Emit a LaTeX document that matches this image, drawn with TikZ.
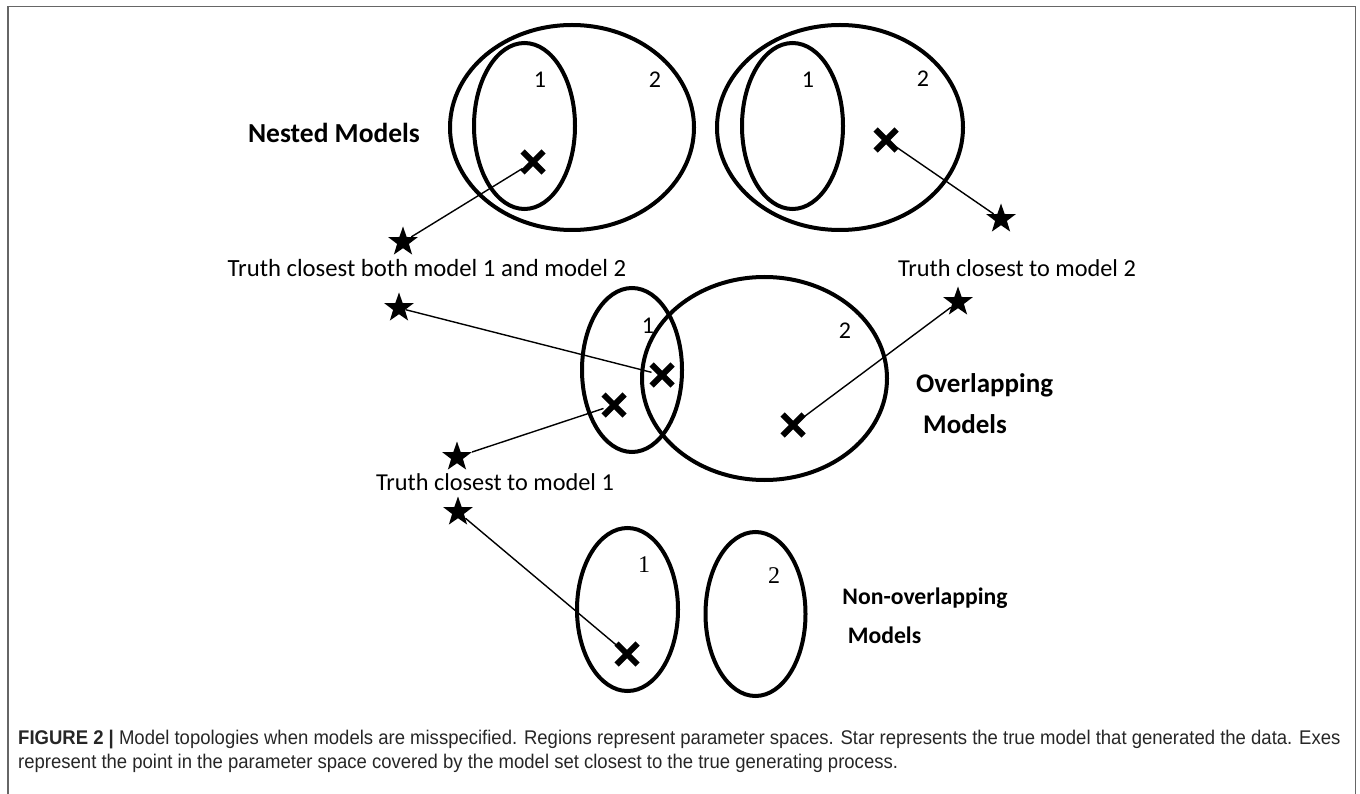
\documentclass[tikz,border=0pt]{standalone}
\usepackage{fontspec}
\setmainfont{Carlito}
\newfontfamily\capfont[FakeStretch=0.935]{Liberation Sans}
\newfontfamily\serifnum{Liberation Serif}
\usetikzlibrary{shapes.geometric,shapes.misc}
\begin{document}
\begin{tikzpicture}[x=1pt,y=-1pt,
  region/.style={draw, line width=4},
  conn/.style={line width=1.4},
  truth/.style={star, star points=5, star point ratio=2.5, fill=black, inner sep=0pt, minimum size=31pt},
  exes/.style={cross out, draw, line width=6pt, inner sep=0pt, minimum size=15pt},
  lab/.style={font=\fontsize{24.3}{29}\selectfont, inner sep=0pt},
  boldlab/.style={font=\fontsize{25}{40}\selectfont\bfseries, inner sep=0pt, align=left},
  num/.style={font=\fontsize{24}{29}\selectfont, inner sep=0pt},
  snum/.style={font=\fontsize{24}{29}\selectfont\serifnum, inner sep=0pt},
  captxt/.style={font=\fontsize{19.8}{24}\selectfont\capfont, text=black!85, inner sep=0pt, anchor=base west},
]
\useasboundingbox (0,0) rectangle (1360,794);
% frame
\draw[black!60, line width=1.6] (8,794) -- (8,6.5) -- (1355.5,6.5) -- (1355.5,794);

% ---- Nested models ----
\draw[region] (572,127.5) ellipse [x radius=122, y radius=102.5];
\draw[region] (524.5,126) ellipse [x radius=50.5, y radius=83];
\node[num] (n1a) at (540,80) {1};
\node[num] (n2a) at (655,80) {2};
\draw[region] (840,127.5) ellipse [x radius=123, y radius=102.5];
\draw[region] (792.5,126) ellipse [x radius=50.5, y radius=83];
\node[num] (n1b) at (808,80) {1};
\node[num] (n2b) at (923,79) {2};
\node[boldlab, font=\fontsize{27.5}{40}\selectfont\bfseries] (nested) at (334,133) {Nested Models};

\node[exes] (xa) at (533,162) {};
\node[exes] (xb) at (886,140) {};
\node[truth] (sa) at (403,242) {};
\node[truth] (sb) at (1001,219) {};
\draw[conn] (sa) -- (xa);
\draw[conn] (sb) -- (xb);

\node[lab, font=\fontsize{24.7}{29}\selectfont] (tboth) at (427,268) {Truth closest both model 1 and model 2};
\node[lab] (t2) at (1017,268) {Truth closest to model 2};

% ---- Overlapping models ----
\draw[region] (632,370) ellipse [x radius=50, y radius=82];
\draw[region] (764.5,378.5) ellipse [x radius=122.5, y radius=101.5];
\node[num] (n1c) at (648,326) {1};
\node[num] (n2c) at (845,331) {2};
\node[boldlab, anchor=west, font=\fontsize{27}{41}\selectfont\bfseries] (overl) at (916,404) {Overlapping\\\hspace*{7pt}Models};

\node[exes] (xc) at (662,375) {};
\node[exes] (xd) at (614,405) {};
\node[exes] (xe) at (793,425) {};
\node[truth] (sc) at (399,308) {};
\node[truth] (sd) at (958,302) {};
\node[truth] (se) at (457,457) {};
\draw[conn] (sc) -- (xc);
\draw[conn] (sd) -- (xe);
\draw[conn] (se) -- (xd);

\node[lab] (t1) at (495,482) {Truth closest to model 1};

% ---- Non-overlapping models ----
\draw[region] (627.5,609.5) ellipse [x radius=50.5, y radius=81.5];
\draw[region] (755.5,614) ellipse [x radius=50, y radius=82];
\node[snum] (n1d) at (644,565) {1};
\node[snum] (n2d) at (774,576) {2};
\node[boldlab, font=\fontsize{23.7}{39}\selectfont\bfseries] (nonov) at (925,616) {Non-overlapping\\\ Models};

\node[exes] (xf) at (627,654) {};
\node[truth] (sf) at (458,512) {};
\draw[conn] (sf) -- (xf);

% ---- caption ----
\node[captxt] (cap1) at (18,744) {{\bfseries FIGURE 2 |} Model topologies when models are misspecified. Regions represent parameter spaces. Star represents the true model that generated the data. Exes};
\node[captxt] (cap2) at (18,768) {represent the point in the parameter space covered by the model set closest to the true generating process.};
\end{tikzpicture}
\end{document}
